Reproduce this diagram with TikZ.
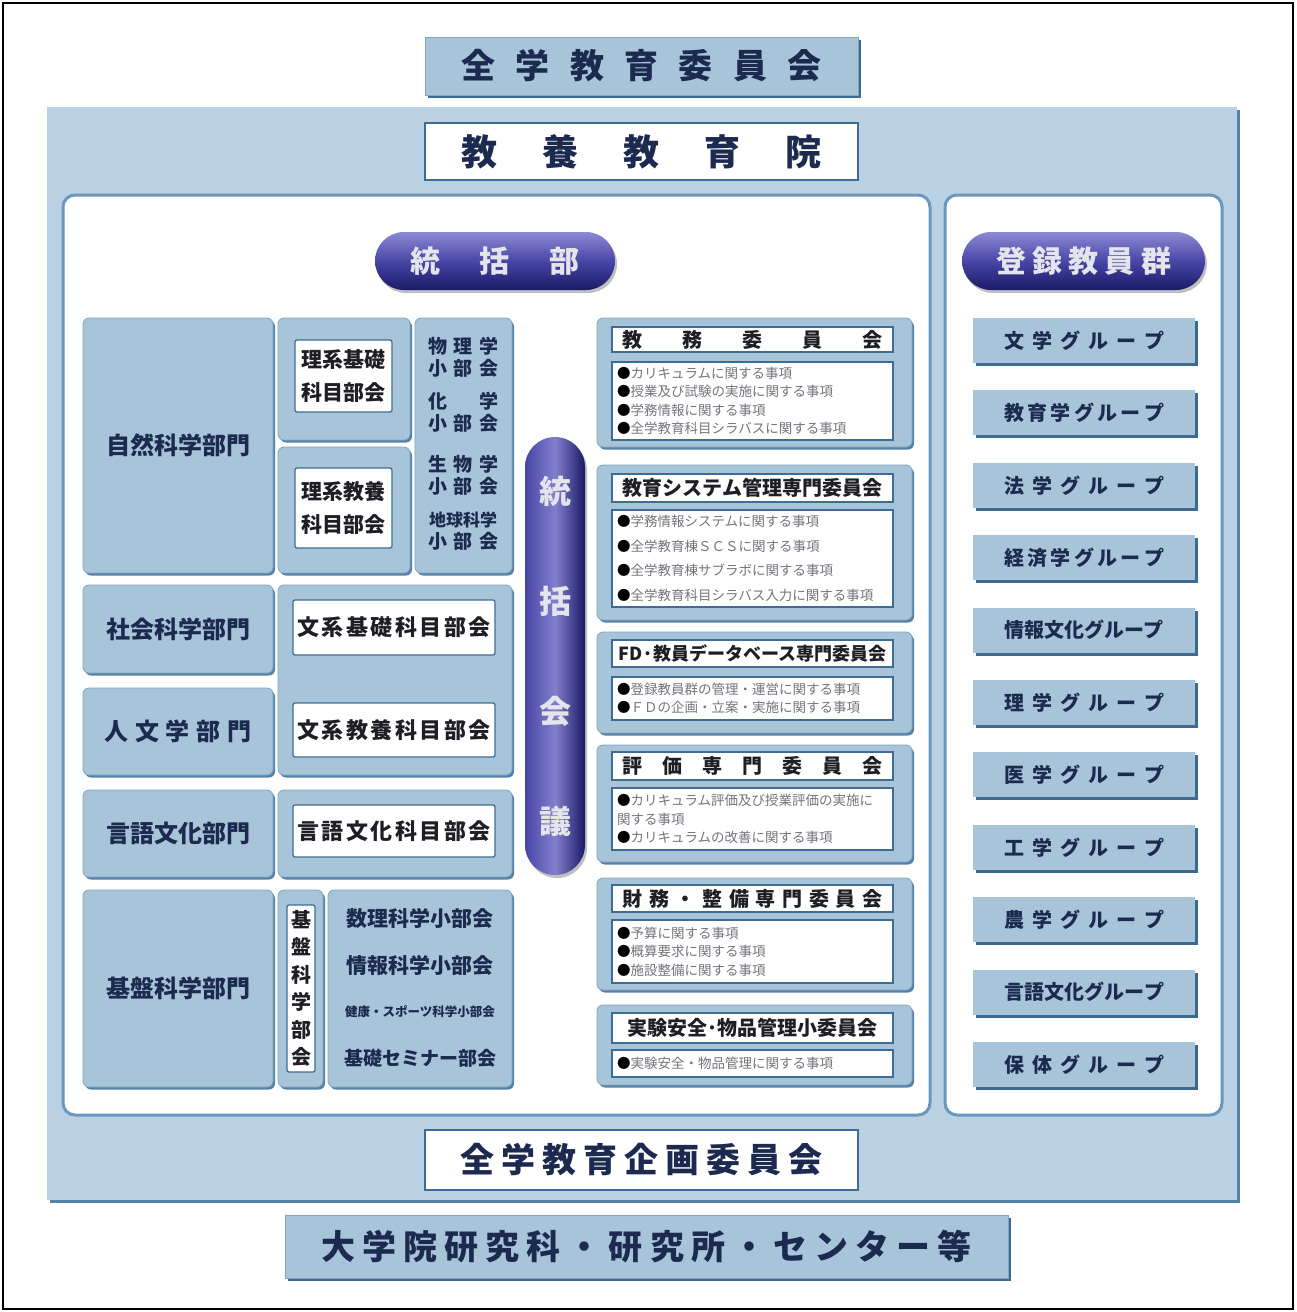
\documentclass[tikz,border=0pt]{standalone}
\usepackage{fontspec}
\setmainfont{Noto Sans CJK JP}
\usetikzlibrary{shadows}
\definecolor{panelblue}{HTML}{B9D1E2}
\definecolor{boxblue}{HTML}{A8C4D9}
\definecolor{edgeblue}{HTML}{7FA6C4}
\definecolor{shadowblue}{HTML}{5682A8}
\definecolor{shadowdark}{HTML}{3F6A90}
\definecolor{innerdark}{HTML}{3E6C95}
\definecolor{panelborder}{HTML}{6A97BC}
\definecolor{navytxt}{HTML}{1C2A50}
\definecolor{blacktxt}{HTML}{1E1E24}
\definecolor{graytxt}{HTML}{74747C}
\definecolor{pilltxt}{HTML}{E4E4EC}
\definecolor{pilltop}{HTML}{8C8AD4}
\definecolor{pillmid}{HTML}{4846A6}
\definecolor{pillbot}{HTML}{1A1A66}
\newcommand\fz[2]{\fontsize{#1pt}{#2pt}\selectfont}
\newcommand\sprd[2]{\makebox[#1pt]{#2}}
\newcommand\bul{\textcolor{black}{●}}
\newcommand\bx[7]{\node[#1, minimum width={(#5-#3)*1pt}, minimum height={(#6-#4)*1pt}] (#2) at ({(#3+#5)/2},{(#4+#6)/2}) {#7};}
\tikzset{
  base/.style={inner sep=0pt, outer sep=0pt, align=center},
  topb/.style={base, fill=boxblue, draw=edgeblue, line width=0.6pt, general shadow={fill=shadowdark, shadow xshift=3pt, shadow yshift=-3pt}, text=navytxt},
  bigpanel/.style={base, fill=panelblue, general shadow={fill=shadowblue, shadow xshift=3pt, shadow yshift=-3pt}},
  wtitle/.style={base, fill=white, draw=innerdark, line width=1.5pt, text=navytxt},
  wpanel/.style={base, fill=white, draw=panelborder, line width=3pt, rounded corners=12pt},
  hpill/.style={base, rounded corners=29pt, top color=pilltop, bottom color=pillbot, middle color=pillmid, text=pilltxt, general shadow={fill=gray!50, shadow xshift=2pt, shadow yshift=-3pt}},
  vpill/.style={base, rounded corners=30pt, left color=pillmid, right color=pillbot, middle color=pilltop!85!pillmid, text=pilltxt, general shadow={fill=gray!50, shadow xshift=2pt, shadow yshift=-3pt}},
  lb/.style={base, fill=boxblue, draw=edgeblue, line width=0.8pt, rounded corners=6pt, general shadow={fill=shadowblue, shadow xshift=2pt, shadow yshift=-2.5pt}, text=navytxt},
  iw/.style={base, fill=white, draw=innerdark, line width=1.3pt, rounded corners=2pt, text=blacktxt},
  tw/.style={base, fill=white, draw=innerdark, line width=1.6pt, text=blacktxt},
  cw/.style={base, fill=white, draw=innerdark, line width=1.6pt, text=graytxt, align=left, text width=271pt, inner xsep=5pt},
  gb/.style={base, fill=boxblue, general shadow={fill=shadowdark, shadow xshift=3pt, shadow yshift=-3pt}, text=navytxt},
  lbl/.style={base, text=navytxt},
}
\begin{document}
\begin{tikzpicture}[x=1pt,y=-1pt]
\useasboundingbox (0,0) rectangle (1296,1312);
\fill[white] (0,0) rectangle (1296,1312);
\draw[black, line width=1.5pt] (3,3) rectangle (1293,1309);

% top committee
\bx{topb, font=\fz{34}{40}\bfseries}{zengaku}{425}{37}{858}{95}{\sprd{360}{全\hfill 学\hfill 教\hfill 育\hfill 委\hfill 員\hfill 会}}

% big panel
\bx{bigpanel}{kyoyo}{47}{107}{1237}{1200}{}
\bx{wtitle, font=\fz{36}{40}\bfseries}{kyoin}{425}{123}{858}{180}{\sprd{360}{教\hfill 養\hfill 教\hfill 育\hfill 院}}
\bx{wpanel}{leftpanel}{63}{195}{930}{1115}{}
\bx{wpanel}{rightpanel}{945}{195}{1222}{1115}{}

% pills
\bx{hpill, font=\fz{30}{34}\bfseries}{tokatsubu}{375}{232}{615}{290}{\sprd{170}{統\hfill 括\hfill 部}}
\bx{hpill, font=\fz{30}{34}\bfseries}{toroku}{962}{232}{1205}{290}{\sprd{175}{登\hfill 録\hfill 教\hfill 員\hfill 群}}
\bx{vpill, font=\fz{32}{110}\bfseries}{kaigi}{525}{437}{585}{875}{統\\括\\会\\議}

% natural sciences
\bx{lb, font=\fz{24}{28}\bfseries}{shizen}{83}{318}{273}{573}{自然科学部門}
\bx{lb}{rikeikisoB}{278}{318}{410}{440}{}
\bx{iw, font=\fz{21}{33}\bfseries}{rikeikiso}{295}{340}{392}{412}{理系基礎\\科目部会}
\bx{lb}{rikeikyoyoB}{278}{447}{410}{573}{}
\bx{iw, font=\fz{21}{33}\bfseries}{rikeikyoyo}{295}{468}{392}{548}{理系教養\\科目部会}
\bx{lb}{shobukaiA}{415}{318}{512}{573}{}
\node[lbl, font=\fz{19}{22}\bfseries] (butsuri) at (463,357) {\sprd{70}{物\hfill 理\hfill 学}\\\sprd{70}{小\hfill 部\hfill 会}};
\node[lbl, font=\fz{19}{22}\bfseries] (kagaku) at (463,412) {\sprd{70}{化\hfill 学}\\\sprd{70}{小\hfill 部\hfill 会}};
\node[lbl, font=\fz{19}{22}\bfseries] (seibutsu) at (463,475) {\sprd{70}{生\hfill 物\hfill 学}\\\sprd{70}{小\hfill 部\hfill 会}};
\node[lbl, font=\fz{19}{22}\bfseries] (chikyu) at (463,531) {{\fz{17}{22}\sprd{70}{地球科学}}\\\sprd{70}{小\hfill 部\hfill 会}};

% social / humanities
\bx{lb, font=\fz{24}{28}\bfseries}{shakai}{83}{585}{273}{673}{社会科学部門}
\bx{lb, font=\fz{24}{28}\bfseries}{jinbun}{83}{688}{273}{775}{\sprd{147}{人\hfill 文\hfill 学\hfill 部\hfill 門}}
\bx{lb}{bunkeiB}{278}{585}{512}{775}{}
\bx{iw, font=\fz{22}{26}\bfseries}{bunkeikiso}{293}{600}{495}{655}{\sprd{194}{文\hfill 系\hfill 基\hfill 礎\hfill 科\hfill 目\hfill 部\hfill 会}}
\bx{iw, font=\fz{22}{26}\bfseries}{bunkeikyoyo}{293}{703}{495}{757}{\sprd{194}{文\hfill 系\hfill 教\hfill 養\hfill 科\hfill 目\hfill 部\hfill 会}}

% language
\bx{lb, font=\fz{24}{28}\bfseries}{gengo}{83}{790}{273}{877}{言語文化部門}
\bx{lb}{gengoB}{278}{790}{512}{877}{}
\bx{iw, font=\fz{22}{26}\bfseries}{gengokamoku}{293}{805}{495}{857}{\sprd{194}{言\hfill 語\hfill 文\hfill 化\hfill 科\hfill 目\hfill 部\hfill 会}}

% basic sciences
\bx{lb, font=\fz{24}{28}\bfseries}{kiban}{83}{890}{273}{1087}{基盤科学部門}
\bx{lb}{kibanB}{278}{890}{323}{1087}{}
\bx{iw, font=\fz{20}{27.5}\bfseries}{kibanbukai}{287}{905}{315}{1072}{基\\盤\\科\\学\\部\\会}
\bx{lb}{kibanS}{328}{890}{512}{1087}{}
\node[lbl, font=\fz{21}{24}\bfseries] (suri) at (420,918) {数理科学小部会};
\node[lbl, font=\fz{21}{24}\bfseries] (joho) at (420,965) {情報科学小部会};
\node[lbl, font=\fz{12.5}{15}\bfseries] (kenko) at (420,1012) {健康・スポーツ科学小部会};
\node[lbl, font=\fz{19}{22}\bfseries] (seminar) at (420,1058) {基礎セミナー部会};

% committees
\bx{lb}{kyomuB}{597}{318}{912}{447}{}
\bx{tw, font=\fz{20}{24}\bfseries}{kyomuT}{612}{327}{893}{352}{\sprd{260}{教\hfill 務\hfill 委\hfill 員\hfill 会}}
\bx{cw, font=\fz{13.5}{18.5}}{kyomuC}{612}{362}{893}{440}{\bul カリキュラムに関する事項\\\bul 授業及び試験の実施に関する事項\\\bul 学務情報に関する事項\\\bul 全学教育科目シラバスに関する事項}

\bx{lb}{systemB}{597}{465}{912}{620}{}
\bx{tw, font=\fz{20}{24}\bfseries}{systemT}{612}{474}{893}{502}{\sprd{262}{教育システム管理専門委員会}}
\bx{cw, font=\fz{13.5}{24.5}}{systemC}{612}{510}{893}{607}{\bul 学務情報システムに関する事項\\\bul 全学教育棟ＳＣＳに関する事項\\\bul 全学教育棟サブラボに関する事項\\\bul 全学教育科目シラバス入力に関する事項}

\bx{lb}{fdB}{597}{632}{912}{733}{}
\bx{tw, font=\fz{18}{24}\bfseries}{fdT}{612}{640}{893}{667}{FD·教員データベース専門委員会}
\bx{cw, font=\fz{13.5}{18.5}}{fdC}{612}{677}{893}{720}{\bul 登録教員群の管理・運営に関する事項\\\bul ＦＤの企画・立案・実施に関する事項}

\bx{lb}{hyokaB}{597}{745}{912}{862}{}
\bx{tw, font=\fz{20}{24}\bfseries}{hyokaT}{612}{752}{893}{780}{\sprd{260}{評\hfill 価\hfill 専\hfill 門\hfill 委\hfill 員\hfill 会}}
\bx{cw, font=\fz{13.5}{18.5}}{hyokaC}{612}{788}{893}{850}{\bul カリキュラム評価及び授業評価の実施に\\関する事項\\\bul カリキュラムの改善に関する事項}

\bx{lb}{zaimuB}{597}{878}{912}{990}{}
\bx{tw, font=\fz{20}{24}\bfseries}{zaimuT}{612}{885}{893}{912}{\sprd{260}{財\hfill 務\hfill ・\hfill 整\hfill 備\hfill 専\hfill 門\hfill 委\hfill 員\hfill 会}}
\bx{cw, font=\fz{13.5}{18.5}}{zaimuC}{612}{920}{893}{983}{\bul 予算に関する事項\\\bul 概算要求に関する事項\\\bul 施設整備に関する事項}

\bx{lb}{jikkenB}{597}{1005}{912}{1085}{}
\bx{tw, font=\fz{20}{24}\bfseries}{jikkenT}{612}{1013}{893}{1043}{\sprd{262}{実験安全･物品管理小委員会}}
\bx{cw, font=\fz{13.5}{18.5}}{jikkenC}{612}{1050}{893}{1077}{\bul 実験安全・物品管理に関する事項}

% registered faculty groups
\foreach \t [count=\i from 0] in {文\hfill 学\hfill グ\hfill ル\hfill ー\hfill プ,
  教\hfill 育\hfill 学\hfill グ\hfill ル\hfill ー\hfill プ,
  法\hfill 学\hfill グ\hfill ル\hfill ー\hfill プ,
  経\hfill 済\hfill 学\hfill グ\hfill ル\hfill ー\hfill プ,
  情報文化グループ,
  理\hfill 学\hfill グ\hfill ル\hfill ー\hfill プ,
  医\hfill 学\hfill グ\hfill ル\hfill ー\hfill プ,
  工\hfill 学\hfill グ\hfill ル\hfill ー\hfill プ,
  農\hfill 学\hfill グ\hfill ル\hfill ー\hfill プ,
  言\hfill 語\hfill 文\hfill 化\hfill グ\hfill ル\hfill ー\hfill プ,
  保\hfill 体\hfill グ\hfill ル\hfill ー\hfill プ}
  {\node[gb, font=\fz{20}{24}\bfseries, minimum width=222pt, minimum height=45pt] (grp\i) at (1084,{340.5+72.4*\i}) {\sprd{160}{\t}};}

% bottom
\bx{wtitle, font=\fz{34}{40}\bfseries}{kikaku}{425}{1130}{858}{1190}{\sprd{362}{全\hfill 学\hfill 教\hfill 育\hfill 企\hfill 画\hfill 委\hfill 員\hfill 会}}
\bx{topb, font=\fz{34}{40}\bfseries}{daigakuin}{285}{1215}{1008}{1278}{\sprd{650}{大\hfill 学\hfill 院\hfill 研\hfill 究\hfill 科\hfill ・\hfill 研\hfill 究\hfill 所\hfill ・\hfill セ\hfill ン\hfill タ\hfill ー\hfill 等}}
\end{tikzpicture}
\end{document}
